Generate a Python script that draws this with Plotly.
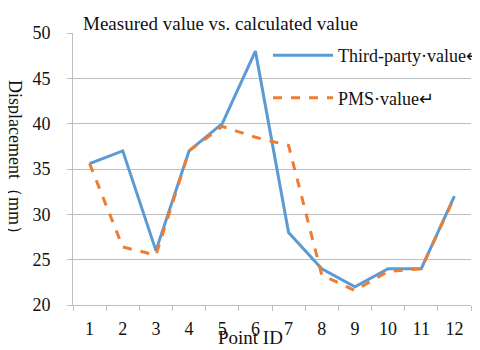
import plotly.graph_objects as go

# point ids and the two series (mm)
point_ids = ["1", "2", "3", "4", "5", "6", "7", "8", "9", "10", "11", "12"]
third_party = [35.6, 37.0, 26.0, 37.0, 40.0, 48.0, 28.0, 24.0, 22.0, 24.0, 24.0, 32.0]
pms_value = [35.6, 26.4, 25.5, 37.0, 39.7, 38.5, 37.6, 23.3, 21.6, 23.7, 24.0, 31.9]

serif = "Liberation Serif, Times New Roman, serif"
ink = "#111111"

fig = go.Figure()
fig.add_trace(go.Scatter(x=point_ids, y=third_party, mode="lines",
                         name="Third-party·value↵", legendgroup="a",
                         line=dict(color="#5B9BD5", width=3)))
fig.add_trace(go.Scatter(x=point_ids, y=pms_value, mode="lines",
                         name="PMS·value↵", legendgroup="b",
                         line=dict(color="#ED7D31", width=3, dash="dash")))

# page body adds an 8px margin, so the figure is a bit smaller than the window
fig.update_layout(
    width=472, height=342,
    margin=dict(l=65, r=9, t=25, b=45, autoexpand=False),
    paper_bgcolor="white", plot_bgcolor="white",
    font=dict(family=serif, size=18, color=ink),
    title=dict(text="Measured value vs. calculated value", x=0.159, xanchor="left",
               y=0.956, yanchor="middle", font=dict(family=serif, size=19, color=ink)),
    showlegend=True,
    legend=dict(x=0.49, y=0.985, xanchor="left", yanchor="top",
                bgcolor="rgba(0,0,0,0)", tracegroupgap=16,
                font=dict(family=serif, size=18, color=ink), itemwidth=60),
)
fig.update_xaxes(type="category", tickson="boundaries", ticks="outside", ticklen=5,
                 tickcolor="#bfbfbf", showline=True, linecolor="#bfbfbf",
                 showgrid=False, range=[-0.5, 11.5], automargin=False,
                 ticklabelstandoff=7,
                 tickfont=dict(family=serif, size=18, color=ink))
fig.update_yaxes(range=[20, 50], dtick=5, showgrid=True, gridcolor="#bfbfbf",
                 showline=True, linecolor="#bfbfbf", ticks="outside", ticklen=5,
                 tickcolor="#bfbfbf", zeroline=False, automargin=False,
                 ticklabelstandoff=13,
                 tickfont=dict(family=serif, size=18, color=ink))
fig.add_annotation(text="Displacement（mm）", xref="paper", yref="paper",
                   x=-0.146, y=0.526, xanchor="center", yanchor="middle",
                   textangle=90, showarrow=False,
                   font=dict(family=serif, size=18, color=ink))
fig.add_annotation(text="Point ID", xref="paper", yref="paper", x=0.445, y=-0.118,
                   xanchor="center", yanchor="middle", showarrow=False,
                   font=dict(family=serif, size=19, color=ink))

fig.write_html("out.html")
